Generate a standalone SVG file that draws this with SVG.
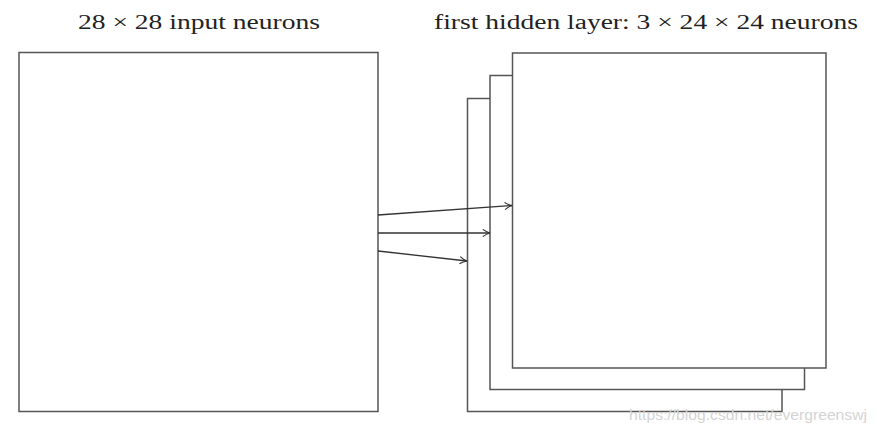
<svg xmlns="http://www.w3.org/2000/svg" width="877" height="432" viewBox="0 0 877 432">
<defs>
<style>
.box{fill:#fff;stroke:#555;stroke-width:1.5}
.lbl{font-family:"Liberation Serif","DejaVu Serif",serif;font-size:20px;fill:#222}
.conn{stroke:#333;stroke-width:1.3;fill:none;marker-end:url(#ah)}
.wm{font-family:"Liberation Sans",Arial,sans-serif;font-size:15.5px;fill:#d4d4d4}
</style>
<marker id="ah" viewBox="0 0 10 10" refX="9" refY="5" markerWidth="9" markerHeight="9" markerUnits="userSpaceOnUse" orient="auto">
<path d="M1,1 Q5,4 9,5 Q5,6 1,9" fill="none" stroke="#333" stroke-width="1.3"/>
</marker>
</defs>
<rect width="877" height="432" fill="#fff"/>
<g id="input">
<rect class="box" x="19" y="52.5" width="359" height="359"/>
<text class="lbl" x="78" y="29" textLength="242" lengthAdjust="spacingAndGlyphs">28 × 28 input neurons</text>
</g>
<g id="hidden">
<rect class="box" x="467.5" y="98.5" width="314.5" height="313"/>
<rect class="box" x="490" y="75.5" width="314.5" height="314"/>
<rect class="box" x="512.5" y="53" width="313.5" height="315"/>
<text class="lbl" x="434" y="29" textLength="424" lengthAdjust="spacingAndGlyphs">first hidden layer: 3 × 24 × 24 neurons</text>
</g>
<g id="connectors">
<line class="conn" x1="378" y1="215" x2="512" y2="205.5"/>
<line class="conn" x1="378" y1="233" x2="490" y2="233"/>
<line class="conn" x1="378" y1="251" x2="467" y2="261"/>
</g>
<text class="wm" x="629" y="420" textLength="238" lengthAdjust="spacingAndGlyphs">https://blog.csdn.net/evergreenswj</text>
</svg>
